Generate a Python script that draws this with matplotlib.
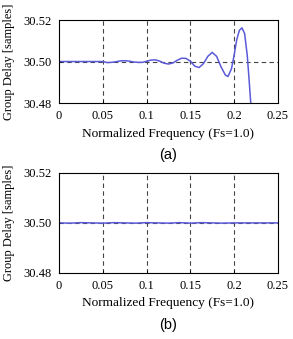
import matplotlib
matplotlib.use("Agg")
import matplotlib.pyplot as plt

# group delay (a)
freq_a = [0, 0.05, 0.055, 0.06, 0.065, 0.07, 0.075, 0.08, 0.085, 0.09, 0.095,
          0.1, 0.105, 0.11, 0.115, 0.12, 0.125, 0.13, 0.135, 0.14, 0.145,
          0.15, 0.155, 0.16, 0.165, 0.17, 0.175, 0.18, 0.185, 0.19, 0.193,
          0.197, 0.2, 0.203, 0.206, 0.209, 0.212, 0.215, 0.217, 0.219, 0.221]
delay_a = [30.5, 30.5, 30.4995, 30.4996, 30.4999, 30.5003, 30.5004, 30.5002, 30.4998, 30.4996, 30.4996,
           30.5001, 30.5007, 30.5008, 30.5002, 30.4992, 30.4988, 30.4993, 30.5006, 30.5016, 30.5015,
           30.5002, 30.4978, 30.4971, 30.499, 30.5025, 30.5044, 30.5025, 30.4975, 30.4935, 30.4928,
           30.4965, 30.503, 30.5105, 30.515, 30.5162, 30.5135, 30.503, 30.492, 30.48, 30.47]

# group delay (b)
freq_b = [0, 0.0125, 0.025, 0.0375, 0.05, 0.0625, 0.075, 0.0875, 0.1, 0.1125,
          0.125, 0.1375, 0.15, 0.1625, 0.175, 0.1875, 0.2, 0.2125, 0.225, 0.2375, 0.25]
delay_b = [30.5, 30.4999, 30.5001, 30.5, 30.4999, 30.5001, 30.5, 30.4999, 30.5001, 30.5,
           30.4999, 30.5001, 30.4999, 30.5001, 30.5, 30.4999, 30.5, 30.5, 30.5, 30.5, 30.5]

xticks = [0, 0.05, 0.1, 0.15, 0.2, 0.25]
xticklabels = ["0", "0.05", "0.1", "0.15", "0.2", "0.25"]
yticks = [30.48, 30.50, 30.52]
yticklabels = ["30.48", "30.50", "30.52"]

serif = "Liberation Serif"
line_col = "#5a5ad8"

fig = plt.figure(figsize=(2.93, 3.39), dpi=100)
ax1 = fig.add_axes([0.2014, 0.696, 0.747, 0.245])
ax2 = fig.add_axes([0.2014, 0.195, 0.747, 0.295])

for ax, f, d, lab in [(ax1, freq_a, delay_a, "(a)"), (ax2, freq_b, delay_b, "(b)")]:
    for xv in xticks[1:-1]:
        ax.axvline(xv, color="#444444", ls=(0, (4, 3)), lw=0.8, zorder=1)
    ax.axhline(30.5, color="#444444", ls=(0, (4, 3)), lw=0.8, zorder=1)
    ax.plot(f, d, color=line_col, lw=1.1, zorder=2)
    ax.set_xlim(0, 0.25)
    ax.set_ylim(30.48, 30.52)
    ax.set_xticks(xticks)
    ax.set_xticklabels(xticklabels, family=serif, fontsize=9)
    ax.set_yticks(yticks)
    ax.set_yticklabels(yticklabels, family=serif, fontsize=9)
    ax.tick_params(direction="in", length=2, width=0.6, pad=5)
    for s in ax.spines.values():
        s.set_linewidth(0.8)
    ax.set_xlabel("Normalized Frequency (Fs=1.0)", family=serif, fontsize=9.6, labelpad=4)
    ax.set_ylabel("Group Delay [samples]", family=serif, fontsize=9, labelpad=6)
    ax.text(0.5, -0.63 if ax is ax1 else -0.52, lab, transform=ax.transAxes,
            ha="center", va="center", family="Liberation Sans", fontsize=10.5)

fig.savefig("out.png", dpi=100)
